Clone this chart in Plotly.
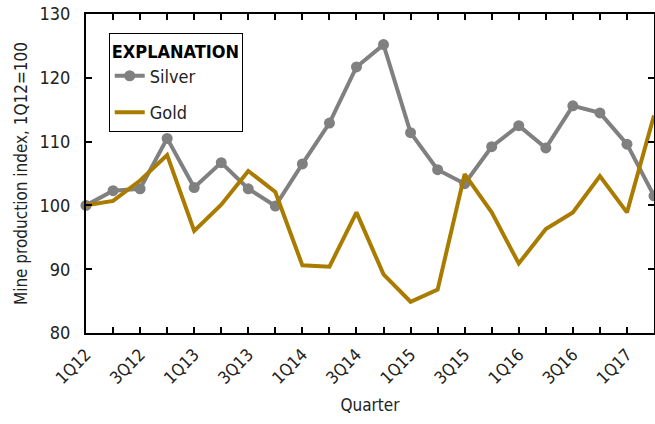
import plotly.graph_objects as go

quarters = ["1Q12","2Q12","3Q12","4Q12","1Q13","2Q13","3Q13","4Q13","1Q14","2Q14","3Q14","4Q14",
            "1Q15","2Q15","3Q15","4Q15","1Q16","2Q16","3Q16","4Q16","1Q17","2Q17"]
silver = [100.0,102.3,102.6,110.5,102.8,106.7,102.6,99.9,106.5,112.9,121.7,125.2,
          111.4,105.6,103.4,109.2,112.5,109.0,115.6,114.5,109.6,101.5]
gold = [100.0,100.7,103.9,107.9,96.0,100.1,105.4,102.1,90.6,90.4,98.9,89.2,
        84.9,86.8,104.9,98.9,90.9,96.3,98.9,104.6,98.9,114.1]

idx = list(range(len(quarters)))
ticktext = [q if i % 2 == 0 else "" for i, q in enumerate(quarters)]

FONT = "Liberation Sans Narrow, Arial Narrow, DejaVu Sans Condensed, Liberation Sans, Arial, sans-serif"

fig = go.Figure()
fig.add_trace(go.Scatter(x=idx, y=silver, name="Silver", mode="lines+markers",
                         legendgroup="s",
                         line=dict(color="#808080", width=4),
                         marker=dict(color="#808080", size=11), cliponaxis=False))
fig.add_trace(go.Scatter(x=idx, y=gold, name="Gold", mode="lines",
                         legendgroup="g",
                         line=dict(color="#A97C00", width=4), cliponaxis=False))

fig.update_layout(
    width=655, height=424,
    margin=dict(l=86, r=1, t=14, b=91),
    plot_bgcolor="white", paper_bgcolor="white",
    font=dict(family=FONT, size=17, color="#222"),
    showlegend=True,
    legend=dict(x=0.04, y=0.94, xanchor="left", yanchor="top",
                bordercolor="black", borderwidth=1, bgcolor="white",
                title=dict(text="<b>EXPLANATION</b>", font=dict(size=18, color="black")),
                font=dict(size=18, color="#222"), tracegroupgap=10),
    xaxis=dict(range=[0, 21], tickmode="array", tickvals=idx, ticktext=ticktext,
               tickangle=-45, ticks="inside", ticklen=6, tickwidth=1.5, tickcolor="black",
               tickfont=dict(size=17), ticklabelstandoff=3,
               showline=True, linecolor="black", linewidth=2, mirror="allticks",
               showgrid=False, zeroline=False, automargin=False,
               title=dict(text="Quarter", font=dict(size=17), standoff=12)),
    yaxis=dict(range=[80, 130], tickvals=[80, 90, 100, 110, 120, 130],
               ticks="inside", ticklen=6, tickwidth=1.5, tickcolor="black",
               tickfont=dict(size=18), ticklabelstandoff=10,
               showline=True, linecolor="black", linewidth=2, mirror="allticks",
               showgrid=False, zeroline=False, automargin=False,
               title=dict(text="Mine production index, 1Q12=100", font=dict(size=17), standoff=8)),
)

fig.write_html("out.html", config={"displayModeBar": False},
               post_script="document.body.style.margin='0';document.body.style.padding='0';")
